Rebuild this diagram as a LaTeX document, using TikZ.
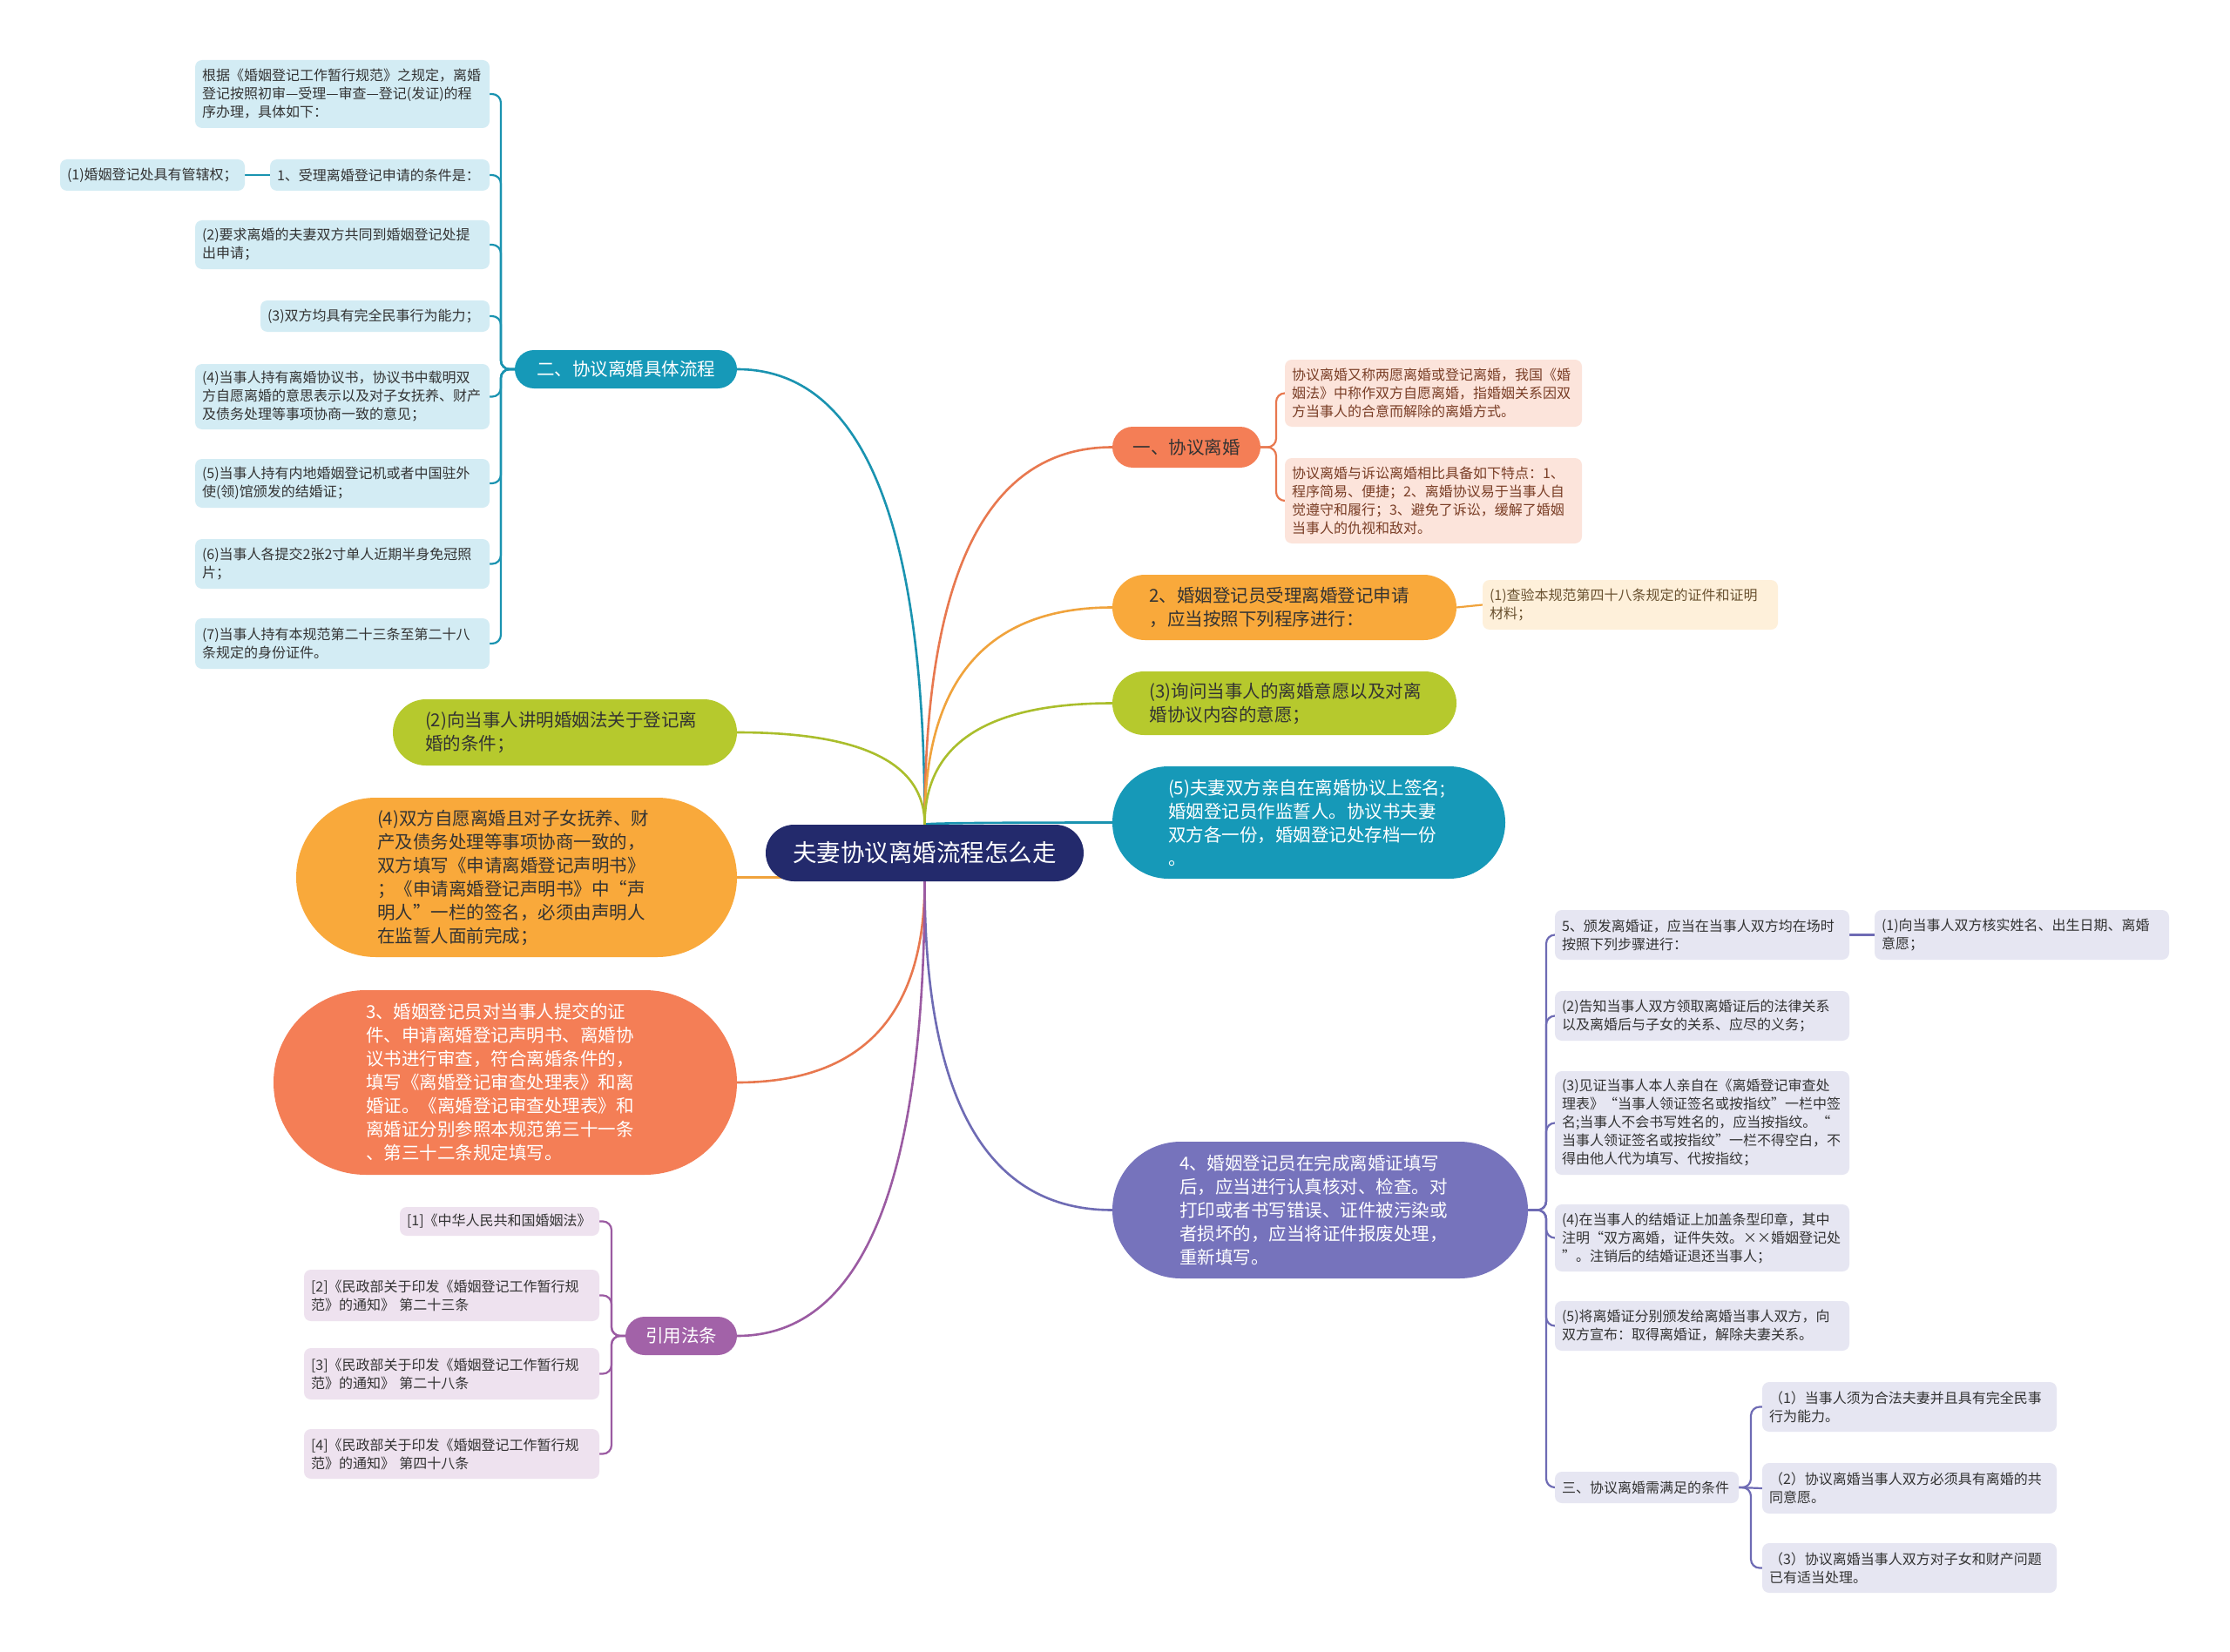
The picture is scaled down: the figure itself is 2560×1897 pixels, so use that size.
\documentclass[tikz,border=0pt]{standalone}
\usepackage{fontspec}
\setmainfont{Noto Sans CJK SC}
\usetikzlibrary{calc,shapes.misc}
\definecolor{cNavy}{HTML}{232A6C}
\definecolor{cTeal}{HTML}{1699B8}
\definecolor{cCoral}{HTML}{F47E56}
\definecolor{cOrange}{HTML}{F9A93B}
\definecolor{cLime}{HTML}{B6C92D}
\definecolor{cPB}{HTML}{7673BC}
\definecolor{cPurple}{HTML}{A262A8}
\definecolor{cLBlue}{HTML}{D3ECF4}
\definecolor{cLPeach}{HTML}{FCE4DB}
\definecolor{cLCream}{HTML}{FEF0DA}
\definecolor{cLLav}{HTML}{E6E6F2}
\definecolor{cLLilac}{HTML}{EEE2EF}
\definecolor{lTeal}{HTML}{1A93B0}
\definecolor{lCoral}{HTML}{E8784F}
\definecolor{lOrange}{HTML}{F0A33C}
\definecolor{lLime}{HTML}{AABE2C}
\definecolor{lPB}{HTML}{6E6BB4}
\definecolor{lPurple}{HTML}{9B5BA2}
\definecolor{cText}{HTML}{333333}
\definecolor{cBrown}{HTML}{7A3E26}
\definecolor{cBrownY}{HTML}{6A5230}
\pgfdeclarelayer{back}
\pgfdeclarelayer{bg}
\pgfsetlayers{back,bg,main}
\tikzset{
  pill/.style={rounded rectangle, inner sep=0pt, align=left, text=cText, font=\fontsize{20.5}{27}\selectfont},
  leafbox/.style={rectangle, rounded corners=8pt, inner sep=0pt, align=left, text=cText, font=\fontsize{16}{21}\selectfont},
  mline/.style={line width=2.6pt},
  cline/.style={line width=2.2pt, rounded corners=10pt}
}
\newcommand\mbranch[3]{\draw[mline,#1] (#2) .. controls ($(#2)!0.667!(#2 |- #3)$) and ($(#3)!0.667!(#2 |- #3)$) .. (#3);}
\begin{document}
\begin{tikzpicture}[x=1pt,y=-1pt]
\useasboundingbox (0,0) rectangle (2560,1897);
\begin{pgfonlayer}{back}
\fill[white] (0,0) rectangle (2560,1897);
\end{pgfonlayer}

% centre
\node[pill, fill=cNavy, text=white, font=\fontsize{27.5}{33}\selectfont, minimum width=365, minimum height=65] (C) at (1061.5,979.5) {夫妻协议离婚流程怎么走};

% right side
\node[pill, fill=cCoral, minimum width=170, minimum height=47] (R1) at (1362,513.5) {一、协议离婚};
\node[leafbox, fill=cLPeach, text=cBrown, minimum width=341, minimum height=77, text width=325] (R1a) at (1645.5,451.5) {协议离婚又称两愿离婚或登记离婚，我国《婚\\姻法》中称作双方自愿离婚，指婚姻关系因双\\方当事人的合意而解除的离婚方式。};
\node[leafbox, fill=cLPeach, text=cBrown, minimum width=341, minimum height=98, text width=325] (R1b) at (1645.5,575) {协议离婚与诉讼离婚相比具备如下特点：1、\\程序简易、便捷；2、离婚协议易于当事人自\\觉遵守和履行；3、避免了诉讼，缓解了婚姻\\当事人的仇视和敌对。};

\node[pill, fill=cOrange, minimum width=395, minimum height=75, text width=310] (R2) at (1474.5,697.5) {2、婚姻登记员受理离婚登记申请\\，应当按照下列程序进行：};
\node[leafbox, fill=cLCream, text=cBrownY, minimum width=339, minimum height=57, text width=323] (R2a) at (1871.5,694.5) {(1)查验本规范第四十八条规定的证件和证明\\材料；};

\node[pill, fill=cLime, minimum width=395, minimum height=73, text width=310] (R3) at (1474.5,807.5) {(3)询问当事人的离婚意愿以及对离\\婚协议内容的意愿；};

\node[pill, fill=cTeal, text=white, minimum width=451, minimum height=129, text width=323] (R5) at (1502.5,944.5) {(5)夫妻双方亲自在离婚协议上签名;\\婚姻登记员作监誓人。协议书夫妻\\双方各一份，婚姻登记处存档一份\\。};

\node[pill, fill=cPB, text=white, minimum width=477, minimum height=157, text width=323] (R4) at (1515.5,1389.5) {4、婚姻登记员在完成离婚证填写\\后，应当进行认真核对、检查。对\\打印或者书写错误、证件被污染或\\者损坏的，应当将证件报废处理，\\重新填写。};

\node[leafbox, fill=cLLav, minimum width=338, minimum height=57, text width=322] (R4a) at (1954,1073.5) {5、颁发离婚证，应当在当事人双方均在场时\\按照下列步骤进行：};
\node[leafbox, fill=cLLav, minimum width=338, minimum height=57, text width=322] (R4a1) at (2321,1073.5) {(1)向当事人双方核实姓名、出生日期、离婚\\意愿；};
\node[leafbox, fill=cLLav, minimum width=338, minimum height=57, text width=322] (R4b) at (1954,1166.5) {(2)告知当事人双方领取离婚证后的法律关系\\以及离婚后与子女的关系、应尽的义务；};
\node[leafbox, fill=cLLav, minimum width=338, minimum height=119, text width=322] (R4c) at (1954,1289.5) {(3)见证当事人本人亲自在《离婚登记审查处\\理表》“当事人领证签名或按指纹”一栏中签\\名;当事人不会书写姓名的，应当按指纹。“\\当事人领证签名或按指纹”一栏不得空白，不\\得由他人代为填写、代按指纹；};
\node[leafbox, fill=cLLav, minimum width=338, minimum height=77, text width=322] (R4d) at (1954,1421.5) {(4)在当事人的结婚证上加盖条型印章，其中\\注明“双方离婚，证件失效。××婚姻登记处\\”。注销后的结婚证退还当事人；};
\node[leafbox, fill=cLLav, minimum width=338, minimum height=57, text width=322] (R4e) at (1954,1522.5) {(5)将离婚证分别颁发给离婚当事人双方，向\\双方宣布：取得离婚证，解除夫妻关系。};
\node[leafbox, fill=cLLav, minimum width=211, minimum height=36, text width=195] (R4f) at (1890.5,1708) {三、协议离婚需满足的条件};
\node[leafbox, fill=cLLav, minimum width=338, minimum height=57, text width=322] (R4f1) at (2192,1615.5) {（1）当事人须为合法夫妻并且具有完全民事\\行为能力。};
\node[leafbox, fill=cLLav, minimum width=338, minimum height=58, text width=322] (R4f2) at (2192,1709) {（2）协议离婚当事人双方必须具有离婚的共\\同意愿。};
\node[leafbox, fill=cLLav, minimum width=338, minimum height=57, text width=322] (R4f3) at (2192,1800.5) {（3）协议离婚当事人双方对子女和财产问题\\已有适当处理。};

% left side
\node[pill, fill=cTeal, text=white, minimum width=255, minimum height=44] (L2) at (718.5,424) {二、协议离婚具体流程};
\node[leafbox, fill=cLBlue, minimum width=338, minimum height=78, text width=322] (L2a) at (393,108) {根据《婚姻登记工作暂行规范》之规定，离婚\\登记按照初审—受理—审查—登记(发证)的程\\序办理，具体如下：};
\node[leafbox, fill=cLBlue, minimum width=252, minimum height=36, text width=236] (L2b) at (436,201) {1、受理离婚登记申请的条件是：};
\node[leafbox, fill=cLBlue, minimum width=212, minimum height=36, text width=196] (L2b1) at (175,201) {(1)婚姻登记处具有管辖权；};
\node[leafbox, fill=cLBlue, minimum width=338, minimum height=56, text width=322] (L2c) at (393,281) {(2)要求离婚的夫妻双方共同到婚姻登记处提\\出申请；};
\node[leafbox, fill=cLBlue, minimum width=263, minimum height=36, text width=247] (L2d) at (430.5,363) {(3)双方均具有完全民事行为能力；};
\node[leafbox, fill=cLBlue, minimum width=338, minimum height=75, text width=322] (L2e) at (393,455.5) {(4)当事人持有离婚协议书，协议书中载明双\\方自愿离婚的意思表示以及对子女抚养、财产\\及债务处理等事项协商一致的意见；};
\node[leafbox, fill=cLBlue, minimum width=338, minimum height=56, text width=322] (L2f) at (393,555) {(5)当事人持有内地婚姻登记机或者中国驻外\\使(领)馆颁发的结婚证；};
\node[leafbox, fill=cLBlue, minimum width=338, minimum height=57, text width=322] (L2g) at (393,647.5) {(6)当事人各提交2张2寸单人近期半身免冠照\\片；};
\node[leafbox, fill=cLBlue, minimum width=338, minimum height=58, text width=322] (L2h) at (393,739) {(7)当事人持有本规范第二十三条至第二十八\\条规定的身份证件。};

\node[pill, fill=cLime, minimum width=395, minimum height=76, text width=321] (L22) at (648.5,841) {(2)向当事人讲明婚姻法关于登记离\\婚的条件；};
\node[pill, fill=cOrange, minimum width=506, minimum height=183, text width=320] (L4) at (593,1007.5) {(4)双方自愿离婚且对子女抚养、财\\产及债务处理等事项协商一致的，\\双方填写《申请离婚登记声明书》\\；《申请离婚登记声明书》中“声\\明人”一栏的签名，必须由声明人\\在监誓人面前完成；};
\node[pill, fill=cCoral, text=white, minimum width=532, minimum height=212, text width=320] (L3) at (580,1243) {3、婚姻登记员对当事人提交的证\\件、申请离婚登记声明书、离婚协\\议书进行审查，符合离婚条件的，\\填写《离婚登记审查处理表》和离\\婚证。《离婚登记审查处理表》和\\离婚证分别参照本规范第三十一条\\、第三十二条规定填写。};

\node[pill, fill=cPurple, text=white, minimum width=128, minimum height=44] (Lref) at (782,1534) {引用法条};
\node[leafbox, fill=cLLilac, minimum width=229, minimum height=33, text width=213] (Lr1) at (573.5,1402.5) {[1]《中华人民共和国婚姻法》};
\node[leafbox, fill=cLLilac, minimum width=339, minimum height=59, text width=323] (Lr2) at (518.5,1487.5) {[2]《民政部关于印发《婚姻登记工作暂行规\\范》的通知》 第二十三条};
\node[leafbox, fill=cLLilac, minimum width=339, minimum height=59, text width=323] (Lr3) at (518.5,1577.5) {[3]《民政部关于印发《婚姻登记工作暂行规\\范》的通知》 第二十八条};
\node[leafbox, fill=cLLilac, minimum width=339, minimum height=57, text width=323] (Lr4) at (518.5,1669.5) {[4]《民政部关于印发《婚姻登记工作暂行规\\范》的通知》 第四十八条};

% connectors
\begin{pgfonlayer}{bg}
\mbranch{lTeal}{C.north}{L2.east}
\mbranch{lCoral}{C.north}{R1.west}
\mbranch{lOrange}{C.north}{R2.west}
\mbranch{lLime}{C.north}{R3.west}
\mbranch{lTeal}{C.north}{R5.west}
\mbranch{lLime}{C.north}{L22.east}
\mbranch{lPB}{C.south}{R4.west}
\mbranch{lCoral}{C.south}{L3.east}
\mbranch{lPurple}{C.south}{Lref.east}
\draw[mline,lOrange] (L4.east) -- (L4.east -| C.center);

\coordinate (tL2) at (575,0);
\foreach \c in {a,b,c,d,e,f,g,h}{\draw[cline,lTeal] (L2.west) -- (L2.west -| tL2) |- (L2\c.east);}
\draw[cline,lTeal] (L2b.west) -- (L2b1.east);

\coordinate (tR1) at (1465,0);
\foreach \c in {a,b}{\draw[cline,lCoral] (R1.east) -- (R1.east -| tR1) |- (R1\c.west);}
\draw[cline,lOrange] (R2.east) -- (R2a.west);

\coordinate (tR4) at (1775,0);
\foreach \c in {a,b,c,d,e,f}{\draw[cline,lPB] (R4.east) -- (R4.east -| tR4) |- (R4\c.west);}
\draw[cline,lPB] (R4a.east) -- (R4a1.west);
\coordinate (tF) at (2010,0);
\foreach \c in {1,3}{\draw[cline,lPB] (R4f.east) -- (R4f.east -| tF) |- (R4f\c.west);}
\draw[cline,lPB] (R4f.east) -- (R4f2.west);

\coordinate (tRef) at (702,0);
\foreach \c in {1,2,3,4}{\draw[cline,lPurple] (Lref.west) -- (Lref.west -| tRef) |- (Lr\c.east);}
\end{pgfonlayer}
\end{tikzpicture}
\end{document}
